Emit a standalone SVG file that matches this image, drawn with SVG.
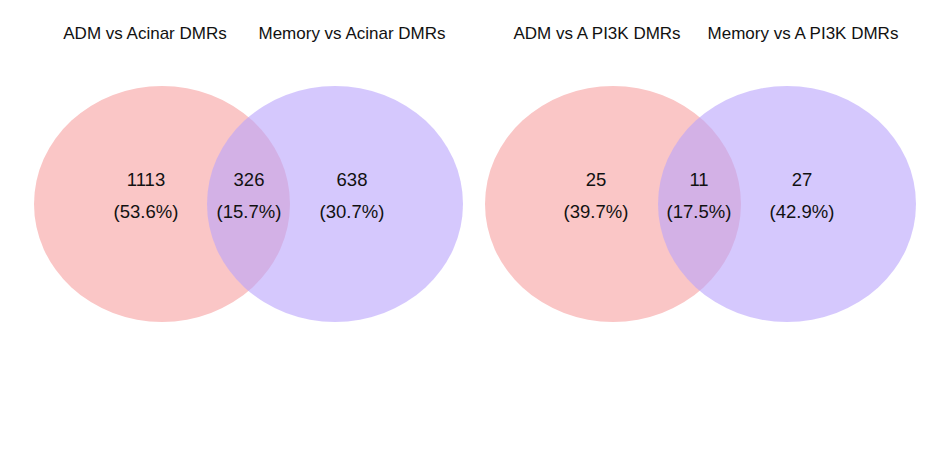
<svg xmlns="http://www.w3.org/2000/svg" width="929" height="452" viewBox="0 0 929 452">
<style>
.p{fill:#fac6c6}
.v{fill:#b9a4fb;fill-opacity:0.6}
.t{font-family:"Liberation Sans",Arial,sans-serif;font-size:17px;fill:#111;text-anchor:middle}
.n{font-family:"Liberation Sans",Arial,sans-serif;font-size:18.5px;fill:#111;text-anchor:middle}
</style>
<rect width="929" height="452" fill="#fff"/>
<g id="venn1">
<ellipse class="p" cx="162" cy="204" rx="128" ry="118"/>
<ellipse class="v" cx="335" cy="204" rx="128" ry="118"/>
<text class="t" x="145" y="39">ADM vs Acinar DMRs</text>
<text class="t" x="352" y="39">Memory vs Acinar DMRs</text>
<text class="n" x="146" y="186">1113</text><text class="n" x="146" y="218">(53.6%)</text>
<text class="n" x="249" y="186">326</text><text class="n" x="249" y="218">(15.7%)</text>
<text class="n" x="352" y="186">638</text><text class="n" x="352" y="218">(30.7%)</text>
</g>
<g id="venn2">
<ellipse class="p" cx="613" cy="204" rx="128" ry="118"/>
<ellipse class="v" cx="787" cy="204" rx="129" ry="118"/>
<text class="t" x="597" y="39">ADM vs A PI3K DMRs</text>
<text class="t" x="803" y="39">Memory vs A PI3K DMRs</text>
<text class="n" x="596" y="186">25</text><text class="n" x="596" y="218">(39.7%)</text>
<text class="n" x="699" y="186">11</text><text class="n" x="699" y="218">(17.5%)</text>
<text class="n" x="802" y="186">27</text><text class="n" x="802" y="218">(42.9%)</text>
</g>
<g id="connectors"/>
</svg>
